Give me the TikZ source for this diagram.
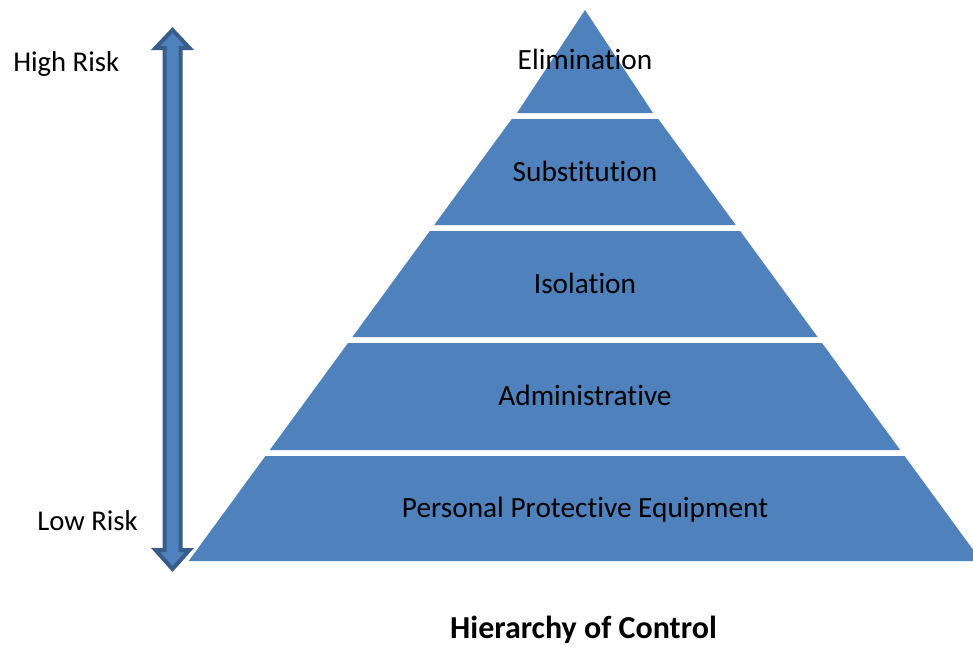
\documentclass[tikz,border=0pt]{standalone}
\usepackage{fontspec}
\setmainfont{Carlito}[Ligatures=NoCommon]
\definecolor{pyrblue}{HTML}{4F81BD}
\definecolor{pyrdark}{HTML}{385D8A}
\begin{document}
\begin{tikzpicture}[x=0.75pt,y=-0.75pt,
  lvl/.style={font=\fontsize{22}{26}\selectfont, text=black, inner sep=0pt, anchor=base},
  side/.style={font=\fontsize{21.5}{25}\selectfont, text=black, inner sep=0pt, anchor=base west},
  section/.style={fill=pyrblue, draw=none}]
\useasboundingbox (0,0) rectangle (973,646);
% pyramid
\begin{scope}
\clip (0,0) rectangle (973,646);
\fill[section] (585,10) -- (517,113) -- (653,113) -- cycle;
\foreach \ya/\yb in {119/225,231/337,343/450,456/561}{
  \pgfmathsetmacro{\xa}{0.7308*(\ya-18.7)}
  \pgfmathsetmacro{\xb}{0.7308*(\yb-18.7)}
  \fill[section] (585-\xa,\ya) -- (585+\xa,\ya) -- (585+\xb,\yb) -- (585-\xb,\yb) -- cycle;
}
\end{scope}
% double arrow
\draw[pyrdark, fill=pyrblue, line width=3pt, line join=miter]
  (172.5,30) -- (189.5,48) -- (180.5,48) -- (180.5,550) -- (189.5,550)
  -- (172.5,569) -- (155.5,550) -- (164.5,550) -- (164.5,48) -- (155.5,48) -- cycle;
% labels
\node[lvl] (elim) at (585,69) {Elimination};
\node[lvl] (subs) at (585,181) {Substitution};
\node[lvl] (isol) at (585,293) {Isolation};
\node[lvl] (admin) at (585,405) {Administrative};
\node[lvl] (ppe) at (585,517) {Personal Protective Equipment};
\node[side] (high) at (13,71) {High Risk};
\node[side] (low) at (37,530) {Low Risk};
\node[font=\fontsize{24}{28}\selectfont\bfseries, inner sep=0pt, anchor=base] (title) at (583.5,638) {Hierarchy of Control};
\end{tikzpicture}
\end{document}
